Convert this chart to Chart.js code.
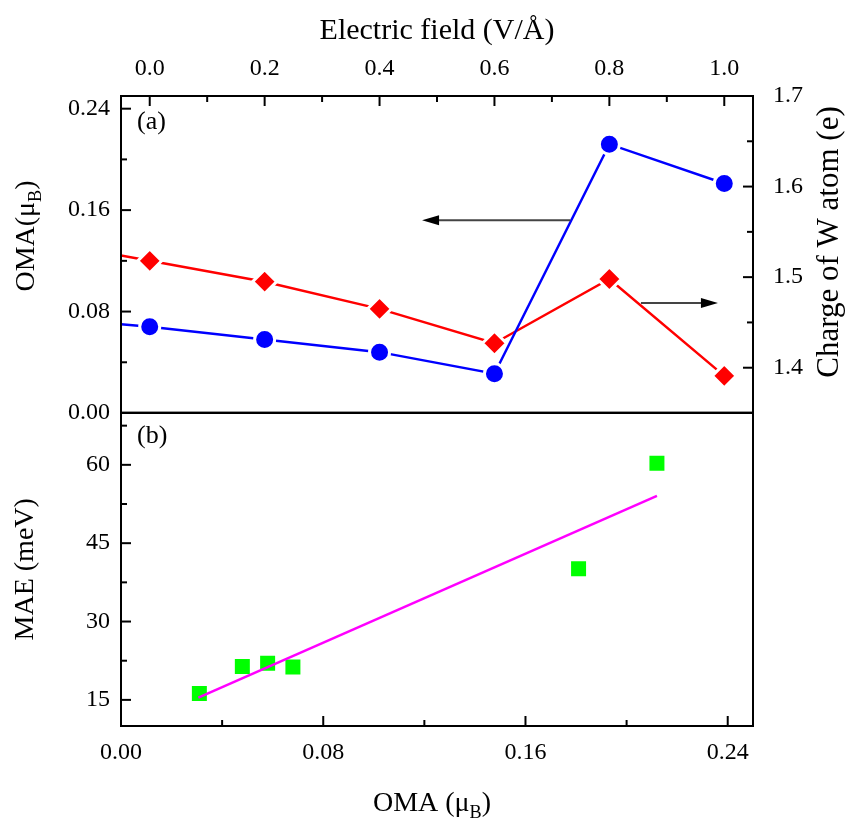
<!DOCTYPE html>
<html><head><meta charset="utf-8">
<script src="https://cdn.jsdelivr.net/npm/chart.js@4.4.0/dist/chart.umd.min.js"></script>
<style>
html,body{margin:0;padding:0;background:#fff;}
#wrap{position:relative;width:852px;height:821px;overflow:hidden;}
canvas{position:absolute;left:0;}
#ca{top:0;}
#cb{top:402px;}
</style></head><body>
<div id="wrap"><canvas id="ca" width="852" height="428"></canvas><canvas id="cb" width="852" height="419"></canvas></div>
<script>
// ---------- data ----------
const fieldValues  = [0.0, 0.2, 0.4, 0.6, 0.8, 1.0];
const omaValues    = [0.068, 0.058, 0.048, 0.031, 0.212, 0.181];
const chargeValues = [1.518, 1.495, 1.465, 1.427, 1.498, 1.391];
const leadField = -0.05, leadOma = 0.070, leadCharge = 1.524;

const omaB      = [0.031, 0.048, 0.058, 0.068, 0.181, 0.212];
const maeValues = [16.2, 21.4, 22.0, 21.3, 40.1, 60.3];
const fitOma = [0.0306, 0.212];
const fitMae = [15.45, 54.05];

const fieldTicks  = [0.0, 0.2, 0.4, 0.6, 0.8, 1.0];
const fieldMinor  = [0.1, 0.3, 0.5, 0.7, 0.9];
const omaTicks    = [0.00, 0.08, 0.16, 0.24];
const omaMinor    = [0.04, 0.12, 0.20];
const chargeTicks = [1.4, 1.5, 1.6, 1.7];
const chargeMinor = [1.45, 1.55, 1.65];
const maeTicks    = [15, 30, 45, 60];
const maeMinor    = [22.5, 37.5, 52.5, 67.5];

const arrowToOma    = {x: [0.732, 0.474], y: 0.152};
const arrowToCharge = {x: [0.855, 0.989], y: 1.4715};

// ---------- helpers ----------
const SERIF = '"Liberation Serif", "Times New Roman", serif';
const pts = (xs, ys) => xs.map((x, i) => ({x, y: ys[i]}));

function drawRich(ctx, parts, cx, cy, rot, size) {
  ctx.save();
  ctx.translate(cx, cy); ctx.rotate(rot);
  let total = 0;
  const ms = parts.map(p => {
    const fs = p.sub ? size * 0.65 : size;
    ctx.font = fs + 'px ' + SERIF;
    const w = ctx.measureText(p.t).width; total += w;
    return {p, fs, w};
  });
  let x = -total / 2;
  ctx.textAlign = 'left'; ctx.textBaseline = 'alphabetic'; ctx.fillStyle = '#000';
  const base = size * 0.34;
  ms.forEach(m => {
    ctx.font = m.fs + 'px ' + SERIF;
    ctx.fillText(m.p.t, x, base + (m.p.sub ? size * 0.28 : 0));
    x += m.w;
  });
  ctx.restore();
}

function tickSet(chart, id, majors, minors, side) {
  const s = chart.scales[id], a = chart.chartArea, ctx = chart.ctx;
  ctx.save(); ctx.strokeStyle = '#000'; ctx.lineWidth = 2;
  const draw = (v, len) => {
    const p = s.getPixelForValue(v);
    ctx.beginPath();
    if (side === 'left')   { ctx.moveTo(a.left, p);  ctx.lineTo(a.left + len, p); }
    if (side === 'right')  { ctx.moveTo(a.right, p); ctx.lineTo(a.right - len, p); }
    if (side === 'top')    { ctx.moveTo(p, a.top);   ctx.lineTo(p, a.top + len); }
    if (side === 'bottom') { ctx.moveTo(p, a.bottom);ctx.lineTo(p, a.bottom - len); }
    ctx.stroke();
  };
  majors.forEach(v => draw(v, 10));
  minors.forEach(v => draw(v, 6));
  ctx.restore();
}

function frame(chart) {
  const a = chart.chartArea, ctx = chart.ctx;
  ctx.save(); ctx.strokeStyle = '#000'; ctx.lineWidth = 2;
  ctx.strokeRect(a.left, a.top, a.right - a.left, a.bottom - a.top);
  ctx.restore();
}

function arrow(chart, xId, yId, spec) {
  const ctx = chart.ctx, sx = chart.scales[xId], sy = chart.scales[yId];
  const x0 = sx.getPixelForValue(spec.x[0]), x1 = sx.getPixelForValue(spec.x[1]);
  const y = sy.getPixelForValue(spec.y);
  const dir = Math.sign(x1 - x0), head = 17, hw = 5;
  ctx.save();
  ctx.strokeStyle = '#444'; ctx.lineWidth = 2;
  ctx.beginPath(); ctx.moveTo(x0, y); ctx.lineTo(x1 - dir * head * 0.8, y); ctx.stroke();
  ctx.fillStyle = '#000';
  ctx.beginPath(); ctx.moveTo(x1, y); ctx.lineTo(x1 - dir * head, y - hw); ctx.lineTo(x1 - dir * head, y + hw); ctx.closePath(); ctx.fill();
  ctx.restore();
}

function tickCfg(pad, fmt) {
  return {font: {family: SERIF, size: 24}, color: '#000', padding: pad, maxRotation: 0, autoSkip: false, callback: fmt};
}
function fixSize(prop, val) {
  return s => { s[prop] = val; s.paddingTop = 0; s.paddingBottom = 0; s.paddingLeft = 0; s.paddingRight = 0; };
}
const noGrid = {display: false, drawTicks: false};
const noBorder = {display: false};

// ---------- panel (a) ----------
const panelA = {
  id: 'panelA',
  afterDraw(chart) {
    frame(chart);
    tickSet(chart, 'xE', fieldTicks, fieldMinor, 'top');
    tickSet(chart, 'yL', omaTicks, omaMinor, 'left');
    tickSet(chart, 'yR', chargeTicks, chargeMinor, 'right');
    arrow(chart, 'xE', 'yL', arrowToOma);
    arrow(chart, 'xE', 'yR', arrowToCharge);
    const a = chart.chartArea, ctx = chart.ctx;
    ctx.save(); ctx.font = '26px ' + SERIF; ctx.fillStyle = '#000';
    ctx.textAlign = 'left'; ctx.textBaseline = 'middle';
    ctx.fillText('(a)', a.left + 16, a.top + 26);
    ctx.restore();
    drawRich(ctx, [{t: 'OMA(μ'}, {t: 'B', sub: true}, {t: ')'}], 24, 236, -Math.PI / 2, 28);
    drawRich(ctx, [{t: 'Charge of W atom (e)'}], 827, 242, -Math.PI / 2, 31);
  }
};

new Chart(document.getElementById('ca'), {
  type: 'scatter',
  data: {
    datasets: [
      {
        label: 'OMA',
        data: pts([leadField, ...fieldValues], [leadOma, ...omaValues]),
        xAxisID: 'xE', yAxisID: 'yL', showLine: true,
        borderColor: '#0000ff', borderWidth: 2.5,
        pointStyle: 'circle', pointRadius: [0, 10, 10, 10, 10, 10, 10],
        pointBackgroundColor: '#0000ff', pointBorderColor: '#ffffff', pointBorderWidth: 3
      },
      {
        label: 'Charge of W atom',
        data: pts([leadField, ...fieldValues], [leadCharge, ...chargeValues]),
        xAxisID: 'xE', yAxisID: 'yR', showLine: true,
        borderColor: '#ff0000', borderWidth: 2.5,
        pointStyle: 'rectRot', pointRadius: [0, 12, 12, 12, 12, 12, 12],
        pointBackgroundColor: '#ff0000', pointBorderColor: '#ffffff', pointBorderWidth: 3
      }
    ]
  },
  options: {
    responsive: false, devicePixelRatio: 1, animation: false, events: [],
    layout: {padding: 0},
    plugins: {legend: {display: false}, tooltip: {enabled: false}},
    scales: {
      xE: {
        type: 'linear', position: 'top', min: -0.05, max: 1.05,
        afterBuildTicks: s => { s.ticks = fieldTicks.map(v => ({value: v})); },
        afterFit: fixSize('height', 96),
        grid: noGrid, border: noBorder,
        ticks: tickCfg(13, v => Number(v).toFixed(1)),
        title: {display: true, text: 'Electric field (V/Å)', color: '#000',
                font: {family: SERIF, size: 30}, padding: {top: 13, bottom: 0}}
      },
      yL: {
        type: 'linear', position: 'left', min: 0, max: 0.25,
        afterBuildTicks: s => { s.ticks = omaTicks.map(v => ({value: v})); },
        afterFit: fixSize('width', 121),
        grid: noGrid, border: noBorder,
        ticks: tickCfg(11, v => Number(v).toFixed(2))
      },
      yR: {
        type: 'linear', position: 'right', min: 1.35, max: 1.7,
        afterBuildTicks: s => { s.ticks = chargeTicks.map(v => ({value: v})); },
        afterFit: fixSize('width', 99),
        grid: noGrid, border: noBorder,
        ticks: tickCfg(20, v => Number(v).toFixed(1))
      }
    }
  },
  plugins: [panelA]
});

// ---------- panel (b) ----------
const panelB = {
  id: 'panelB',
  afterDraw(chart) {
    frame(chart);
    tickSet(chart, 'xO', omaTicks, omaMinor, 'bottom');
    tickSet(chart, 'yM', maeTicks, maeMinor, 'left');
    const a = chart.chartArea, ctx = chart.ctx;
    ctx.save(); ctx.font = '26px ' + SERIF; ctx.fillStyle = '#000';
    ctx.textAlign = 'left'; ctx.textBaseline = 'middle';
    ctx.fillText('(b)', a.left + 16, a.top + 24);
    ctx.restore();
    drawRich(ctx, [{t: 'OMA (μ'}, {t: 'B', sub: true}, {t: ')'}], 432, 399, 0, 28);
  }
};

new Chart(document.getElementById('cb'), {
  type: 'scatter',
  data: {
    datasets: [
      {
        label: 'Linear fit',
        data: pts(fitOma, fitMae),
        xAxisID: 'xO', yAxisID: 'yM', showLine: true,
        borderColor: '#ff00ff', borderWidth: 2.5, pointRadius: 0
      },
      {
        label: 'MAE',
        data: pts(omaB, maeValues),
        xAxisID: 'xO', yAxisID: 'yM',
        pointStyle: 'rect', pointRadius: 10.6,
        pointBackgroundColor: '#00ff00', pointBorderWidth: 0, borderColor: '#00ff00'
      }
    ]
  },
  options: {
    responsive: false, devicePixelRatio: 1, animation: false, events: [],
    layout: {padding: {top: 10, right: 99, left: 0, bottom: 0}},
    plugins: {legend: {display: false}, tooltip: {enabled: false}},
    scales: {
      xO: {
        type: 'linear', position: 'bottom', min: 0, max: 0.25,
        afterBuildTicks: s => { s.ticks = omaTicks.map(v => ({value: v})); },
        afterFit: fixSize('height', 95),
        grid: noGrid, border: noBorder,
        ticks: tickCfg(12, v => Number(v).toFixed(2))
      },
      yM: {
        type: 'linear', position: 'left', min: 10, max: 70,
        afterBuildTicks: s => { s.ticks = maeTicks.map(v => ({value: v})); },
        afterFit: fixSize('width', 121),
        grid: noGrid, border: noBorder,
        ticks: tickCfg(11, v => String(v)),
        title: {display: true, text: 'MAE (meV)', color: '#000',
                font: {family: SERIF, size: 28}, padding: {top: 9, bottom: 0}}
      }
    }
  },
  plugins: [panelB]
});
</script>
</body></html>
